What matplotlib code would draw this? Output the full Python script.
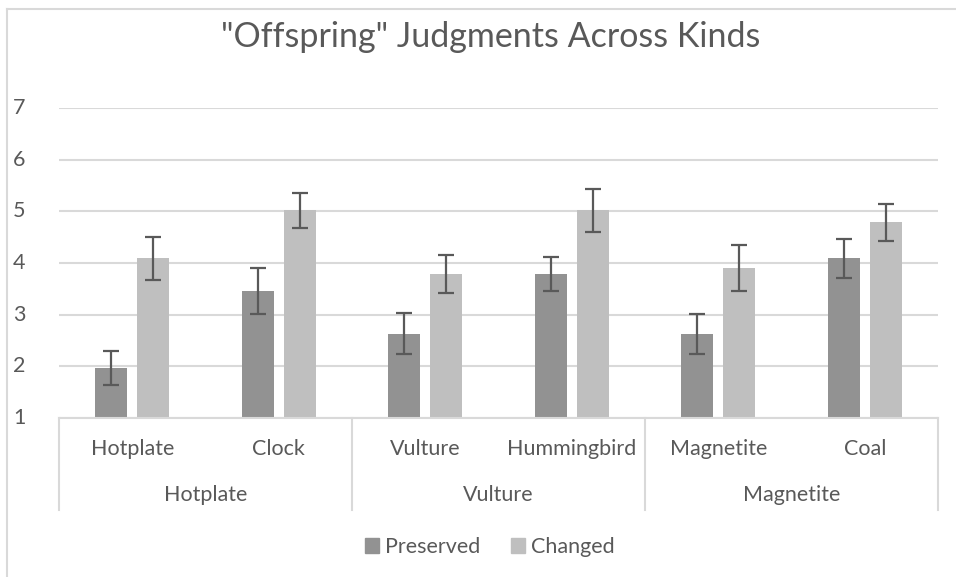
import matplotlib.pyplot as plt
from matplotlib.lines import Line2D
from matplotlib.patches import Patch

# data
kinds = ["Hotplate", "Clock", "Vulture", "Hummingbird", "Magnetite", "Coal"]
groups = ["Hotplate", "Vulture", "Magnetite"]
yticks = [1, 2, 3, 4, 5, 6, 7]
preserved = [1.97, 3.46, 2.63, 3.79, 2.62, 4.09]
preserved_err = [0.33, 0.45, 0.40, 0.33, 0.39, 0.38]
changed = [4.09, 5.02, 3.79, 5.02, 3.90, 4.79]
changed_err = [0.41, 0.34, 0.37, 0.42, 0.45, 0.36]

txt = "#595959"
grid = "#d9d9d9"
fs = 15.5
plt.rcParams["font.family"] = ["Lato", "DejaVu Sans"]

fig = plt.figure(figsize=(9.56, 5.77), dpi=100)
W, H = 956, 577
ax = fig.add_axes([59 / W, 1 - 418 / H, (938 - 59) / W, (418 - 108) / H])

x = list(range(len(kinds)))
bw = 0.219
off = 0.1435
ax.bar([i - off for i in x], [p - 1 for p in preserved], bw, bottom=1,
       color="#929292", zorder=2)
ax.bar([i + off for i in x], [c - 1 for c in changed], bw, bottom=1,
       color="#bfbfbf", zorder=2)
ax.errorbar([i - off for i in x], preserved, yerr=preserved_err, fmt="none",
            ecolor="#595959", elinewidth=1.6, capsize=5.5, capthick=1.6, zorder=3)
ax.errorbar([i + off for i in x], changed, yerr=changed_err, fmt="none",
            ecolor="#595959", elinewidth=1.6, capsize=5.5, capthick=1.6, zorder=3)

ax.set_xlim(-0.5, 5.5)
ax.set_ylim(1, 7)
ax.set_yticks(yticks)
ax.set_yticklabels([])
ax.yaxis.grid(True, color=grid, linewidth=1.5, zorder=0)
ax.tick_params(axis="y", length=0)
ytr = ax.get_yaxis_transform()
for v in yticks:
    ax.text(-(59 - 19) / (938 - 59), v, str(v), transform=ytr, ha="center", va="center",
            fontsize=fs, color=txt)
ax.set_xticks([])
for s in ax.spines.values():
    s.set_visible(False)

# multi-level category axis
tr = ax.get_xaxis_transform()
ax.add_line(Line2D([-0.5, 5.5], [0, 0], transform=tr, color=grid, lw=1.5, clip_on=False, zorder=4))
yb = -(510 - 418) / (418 - 108)
for b in [-0.5, 1.5, 3.5, 5.5]:
    ax.add_line(Line2D([b, b], [0, yb], transform=tr, color=grid, lw=1.5, clip_on=False))
y1 = -(449 - 418) / (418 - 108)
y2 = -(495 - 418) / (418 - 108)
for i, k in enumerate(kinds):
    ax.text(i, y1, k, transform=tr, ha="center", va="center", fontsize=fs, color=txt)
for g, name in enumerate(groups):
    ax.text(2 * g + 0.5, y2, name, transform=tr, ha="center", va="center", fontsize=fs, color=txt)

fig.text(491 / W, 1 - 37 / H, '"Offspring" Judgments Across Kinds',
         ha="center", va="center", fontsize=24.5, color=txt)

handles = [Patch(color="#929292", label="Preserved"), Patch(color="#bfbfbf", label="Changed")]
fig.legend(handles=handles, loc="center", bbox_to_anchor=(490 / W, 1 - 547 / H), ncol=2,
           frameon=False, fontsize=fs, labelcolor=txt, handlelength=0.65, handleheight=0.65,
           handletextpad=0.3, columnspacing=1.4)

# outer chart border (left and top only visible)
fig.add_artist(Line2D([7 / W, 7 / W], [0, 1 - 9 / H], transform=fig.transFigure, color=grid, lw=1.5))
fig.add_artist(Line2D([7 / W, 1], [1 - 9 / H, 1 - 9 / H], transform=fig.transFigure, color=grid, lw=1.5))

fig.savefig("out.png", dpi=100)
